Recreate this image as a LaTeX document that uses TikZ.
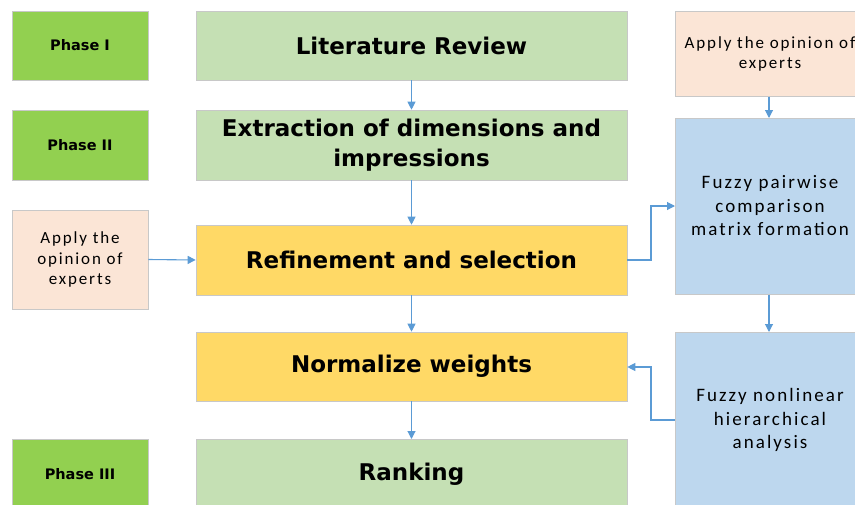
\documentclass[tikz,border=0pt]{standalone}
\usepackage{fontspec}
\setmainfont{DejaVu Sans}
\newfontfamily\carlitofont[LetterSpace=11]{Carlito}
\usetikzlibrary{arrows.meta}
\definecolor{phasegreen}{HTML}{92D050}
\definecolor{lightgreen}{HTML}{C5E0B4}
\definecolor{yellowbox}{HTML}{FFD966}
\definecolor{peach}{HTML}{FBE5D6}
\definecolor{bluebox}{HTML}{BDD7EE}
\definecolor{arrowblue}{HTML}{5B9BD5}
\definecolor{edgegray}{HTML}{C8C8C8}
\tikzset{
  box/.style={draw=edgegray, line width=0.6pt, inner sep=0pt, align=center},
  conn/.style={draw=arrowblue, line width=1.1pt, -{Triangle[length=8pt,width=8pt]}},
  mainlbl/.style={font=\bfseries\fontsize{23}{30}\selectfont},
  phaselbl/.style={font=\bfseries\fontsize{14.5}{17}\selectfont},
  applylbl/.style={font=\carlitofont\fontsize{17}{20.5}\selectfont, align=center},
  bluelbl/.style={font=\carlitofont\fontsize{19}{23.5}\selectfont, align=center},
}
\begin{document}
\begin{tikzpicture}[x=1pt,y=-1pt]
\useasboundingbox (0,0) rectangle (855,504);
\clip (0,0) rectangle (855,504);
% phase boxes
\node[box, fill=phasegreen, minimum width=136, minimum height=69, phaselbl] (p1) at (80,45.5) {Phase I};
\node[box, fill=phasegreen, minimum width=136, minimum height=70, phaselbl] (p2) at (80,145) {Phase II};
\node[box, fill=phasegreen, minimum width=136, minimum height=70, anchor=north] (p3) at (80,439) {};
\node[phaselbl] (p3t) at (80,474) {Phase III};
% main column
\node[box, fill=lightgreen, minimum width=431, minimum height=69, mainlbl] (lit) at (411.5,45.5) {Literature Review};
\node[box, fill=lightgreen, minimum width=431, minimum height=70, mainlbl] (ext) at (411.5,145) {Extraction of dimensions and\\impressions};
\node[box, fill=yellowbox, minimum width=431, minimum height=70, mainlbl] (ref) at (411.5,260) {Refinement and selection};
\node[box, fill=yellowbox, minimum width=431, minimum height=69, mainlbl] (norm) at (411.5,366.5) {Normalize weights};
\node[box, fill=lightgreen, minimum width=431, minimum height=80, anchor=north] (rank) at (411.5,439) {};
\node[mainlbl] (rankt) at (411.5,474) {Ranking};
% left expert box
\node[box, fill=peach, minimum width=136, minimum height=99, applylbl] (expL) at (80,259.5) {Apply the\\opinion of\\experts};
% right column
\node[box, fill=peach, minimum width=190, minimum height=85, anchor=north west] (expR) at (675,11) {};
\node[applylbl] (expRt) at (770,54) {Apply the opinion of\\experts};
\node[box, fill=bluebox, minimum width=190, minimum height=176, anchor=north west] (fpc) at (675,118) {};
\node[bluelbl] (fpct) at (770,206) {Fuzzy pairwise\\comparison\\matrix formation};
\node[box, fill=bluebox, minimum width=190, minimum height=190, anchor=north west] (fnh) at (675,332) {};
\node[bluelbl] (fnht) at (770,420) {Fuzzy nonlinear\\hierarchical\\analysis};
% connectors
\draw[conn] (lit.south) -- (ext.north);
\draw[conn] (ext.south) -- (ref.north);
\draw[conn] (ref.south) -- (norm.north);
\draw[conn] (norm.south) -- (rank.north);
\draw[conn] (expL.east) -- (ref.west);
\draw[conn] (expR.south -| 769,0) -- (fpc.north -| 769,0);
\draw[conn] (fpc.south -| 769,0) -- (fnh.north -| 769,0);
\coordinate (c1) at (651,260);
\coordinate (c2) at (651,206);
\draw[conn] (ref.east) -- (c1) -- (c2) -- (c2 -| fpc.west);
\coordinate (c3) at (651,420);
\coordinate (c4) at (651,367);
\draw[conn] (c3 -| fnh.west) -- (c3) -- (c4) -- (c4 -| norm.east);
\end{tikzpicture}
\end{document}
